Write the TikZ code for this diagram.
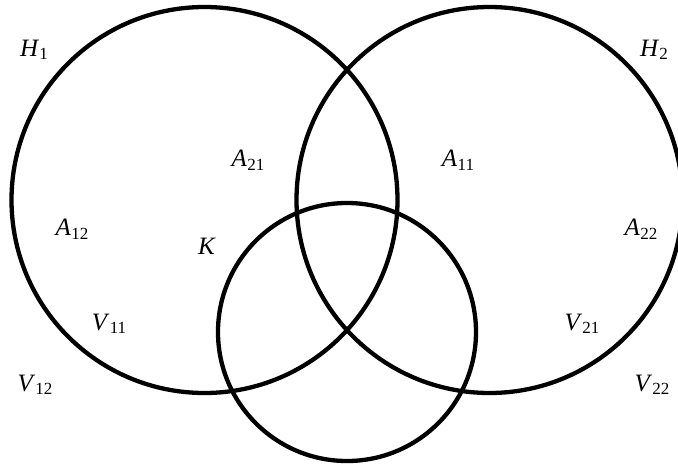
\documentclass[tikz,border=0pt]{standalone}
\usepackage{fontspec}
\setmainfont{Liberation Serif}
\usetikzlibrary{positioning}
\newcommand{\setlab}[2]{\textit{#1}\kern0.3pt\raisebox{-3.5pt}{\fontsize{17}{17}\selectfont #2}}

\begin{document}
\begin{tikzpicture}[
        x=1pt,y=-1pt,
        every node/.style={font=\fontsize{25}{29}\selectfont},
        ring/.style={draw=black,circle,line width=4.3pt,inner sep=0pt},
        lab/.style={inner sep=0pt,anchor=center}
      ]
        \useasboundingbox (0,0) rectangle (678,464);
        \clip (0,0) rectangle (678,464);
        \node[ring,minimum size=386pt] (left) at (204.5,200) {};
        \node[ring,minimum size=386pt] (right) at (489.5,200) {};
        \node[ring,minimum size=258pt] (bottom) at (347,332) {};
        % labels
        \node[lab] (h1) at (34,50) {\setlab{H}{1}};
        \node[lab] (h2) at (654,50) {\setlab{H}{2}};
        \node[lab] (a21) at (248,160) {\setlab{A}{21}};
        \node[lab] (a11) at (458,160) {\setlab{A}{11}};
        \node[lab] (a12) at (72,229) {\setlab{A}{12}};
        \node[lab] (a22) at (641,229) {\setlab{A}{22}};
        \node[lab] (k) at (207,246) {\textit{K}};
        \node[lab] (v11) at (109,324) {\setlab{V}{11}};
        \node[lab] (v21) at (582,324) {\setlab{V}{21}};
        \node[lab] (v12) at (35,385) {\setlab{V}{12}};
        \node[lab] (v22) at (652,385) {\setlab{V}{22}};
      \end{tikzpicture}
\end{document}
